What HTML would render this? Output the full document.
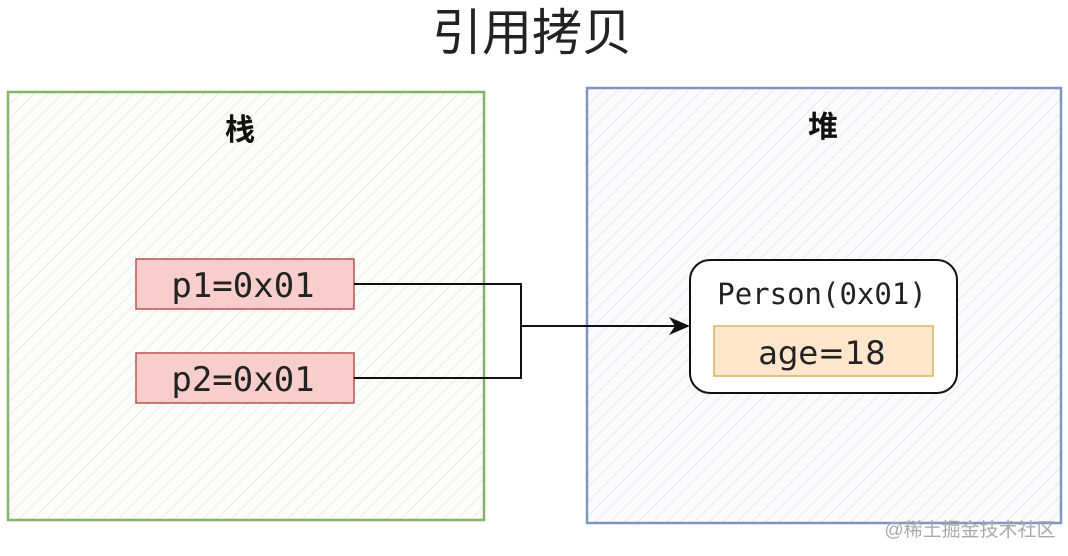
<!DOCTYPE html>
<html><head><meta charset="utf-8"><style>
html,body{margin:0;padding:0;background:#fff;width:1068px;height:556px;overflow:hidden}
</style></head><body>
<svg width="1068" height="556" xmlns="http://www.w3.org/2000/svg">
<defs>
<pattern id="hg" width="10" height="10" patternUnits="userSpaceOnUse" patternTransform="rotate(45)">
<rect width="10" height="10" fill="#fcfdfb"/><line x1="0" y1="0" x2="0" y2="10" stroke="#e0e4dd" stroke-width="1.5"/></pattern>
<pattern id="hb" width="10" height="10" patternUnits="userSpaceOnUse" patternTransform="rotate(45)">
<rect width="10" height="10" fill="#fbfbfd"/><line x1="0" y1="0" x2="0" y2="10" stroke="#dfe1e6" stroke-width="1.5"/></pattern>
</defs>
<text x="532" y="50" text-anchor="middle" font-family="'Liberation Sans','Noto Sans CJK SC',sans-serif" font-size="50" fill="#222">引用拷贝</text>
<rect x="8" y="92" width="476" height="428" fill="url(#hg)" stroke="#82b366" stroke-width="2.5"/>
<rect x="587" y="88" width="474" height="435" fill="url(#hb)" stroke="#7d95c2" stroke-width="2.5"/>
<text x="240" y="140" text-anchor="middle" font-family="'Liberation Sans','Noto Sans CJK SC',sans-serif" font-weight="bold" font-size="30" fill="#111">栈</text>
<text x="823" y="137" text-anchor="middle" font-family="'Liberation Sans','Noto Sans CJK SC',sans-serif" font-weight="bold" font-size="30" fill="#111">堆</text>
<rect x="136" y="259" width="218" height="50" fill="#f8cecc" stroke="#b85450" stroke-width="1.5"/>
<rect x="136" y="353" width="218" height="50" fill="#f8cecc" stroke="#b85450" stroke-width="1.5"/>
<text x="243" y="297" text-anchor="middle" font-family="'DejaVu Sans Mono','Liberation Mono',monospace" font-size="34" fill="#222">p1=0x01</text>
<text x="243" y="391" text-anchor="middle" font-family="'DejaVu Sans Mono','Liberation Mono',monospace" font-size="34" fill="#222">p2=0x01</text>
<polyline points="354,284 521,284 521,378 354,378" fill="none" stroke="#111" stroke-width="2"/>
<line x1="521" y1="326" x2="676" y2="326" stroke="#111" stroke-width="2"/>
<polygon points="690,326 669,317 675,326 669,335" fill="#111"/>
<rect x="690" y="260" width="267" height="133" rx="20" fill="#fff" stroke="#111" stroke-width="2"/>
<text x="822" y="304" text-anchor="middle" font-family="'DejaVu Sans Mono','Liberation Mono',monospace" font-size="29" fill="#222">Person(0x01)</text>
<rect x="714" y="326" width="219" height="50" fill="#ffe6cc" stroke="#d7b060" stroke-width="1.5"/>
<text x="822" y="364" text-anchor="middle" font-family="'DejaVu Sans','Liberation Sans',sans-serif" font-size="32" fill="#222">age=18</text>
<text x="970" y="536" text-anchor="middle" font-family="'Liberation Sans','Noto Sans CJK SC',sans-serif" font-size="19" fill="#aaa">@稀土掘金技术社区</text>
</svg>
</body></html>
